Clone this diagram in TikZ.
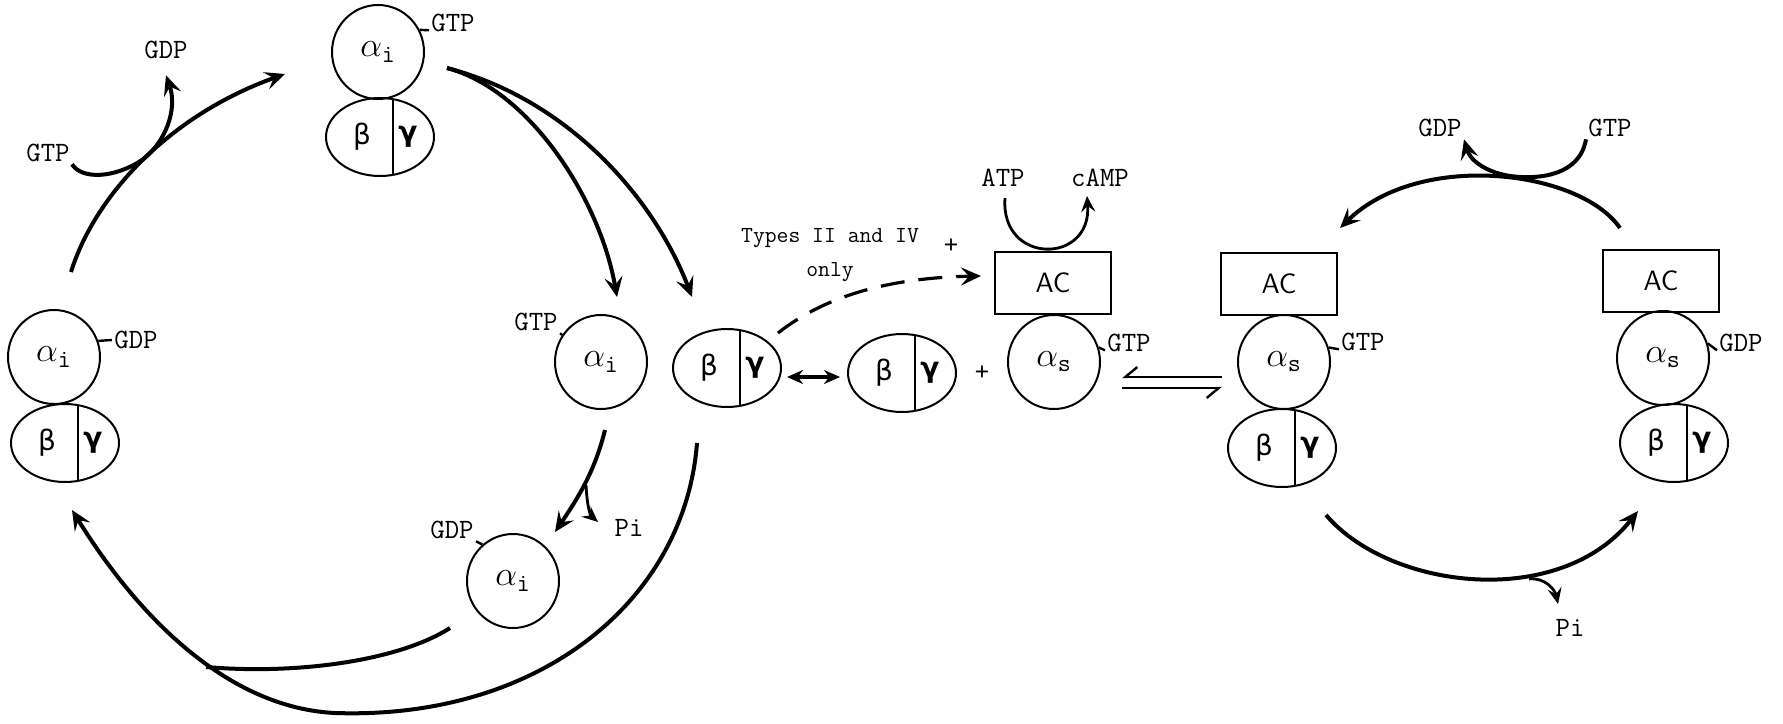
\documentclass[tikz,border=0pt]{standalone}
\usepackage{fontspec}
\usepackage{amsmath}
\newfontfamily\grkfont{DejaVu Sans}
\usetikzlibrary{shapes.geometric,arrows.meta}

\begin{document}
\begin{tikzpicture}[x=0.5pt,y=-0.5pt,
  lab/.style={font=\fontsize{14}{16}\selectfont\ttfamily,inner sep=1pt},
  asub/.style={ellipse,draw,line width=1pt,minimum width=46pt,minimum height=47pt,inner sep=0pt,font=\fontsize{18}{20}\selectfont},
  dimer/.style={ellipse,draw,line width=1pt,minimum width=54pt,minimum height=39pt,font=\fontsize{14}{16}\selectfont,
    path picture={
      \draw[line width=0.9pt] ([xshift=6.5pt]path picture bounding box.north) -- ([xshift=6.5pt]path picture bounding box.south);
      \node at ([xshift=-9pt]path picture bounding box.center) {\grkfont β};
      \node at ([xshift=14pt]path picture bounding box.center) {\grkfont\bfseries γ};}},
  acbox/.style={draw,line width=1pt,minimum width=58pt,minimum height=31pt,font=\sffamily\fontsize{14}{16}\selectfont},
  arr/.style={line width=2pt,-{Stealth[length=10pt,width=9pt,inset=4pt]}},
  thin arr/.style={line width=1.4pt,-{Stealth[length=8pt,width=7pt,inset=3pt]}},
  tickln/.style={line width=1.2pt},
  harp/.style={line width=1.2pt,-{Straight Barb[right,length=6pt,width=10pt]}}]
\useasboundingbox (0,0) rectangle (1783,723);

% left cycle (alpha i)
\node[asub] (ai1) at (378,52) {$\alpha_{\texttt{i}}$};
\node[dimer] (bg1) at (380,137) {};
\node[lab] (gtp1) at (453,23) {GTP};
\draw[tickln] (ai1.28) -- ([yshift=2pt]gtp1.south west);
\node[lab] (gdp0) at (166,50) {GDP};
\node[lab] (gtp0) at (48,153) {GTP};

\node[asub] (ai2) at (54,357) {$\alpha_{\texttt{i}}$};
\node[dimer] (bg2) at (65,443) {};
\node[lab] (gdp2) at (136,340) {GDP};
\draw[tickln] (ai2.20) -- (gdp2.west);

\node[asub] (ai3) at (601,362) {$\alpha_{\texttt{i}}$};
\node[lab] (gtp3) at (536,322) {GTP};
\draw[tickln] (gtp3.south east) -- (ai3.145);

\node[asub] (ai4) at (513,581) {$\alpha_{\texttt{i}}$};
\node[lab] (gdp4) at (452,530) {GDP};
\draw[tickln] (gdp4.south east) -- (ai4.130);
\node[lab] (pi1) at (629,528) {Pi};

% free beta gamma and AC
\node[dimer] (bg3) at (727,368) {};
\node[dimer] (bg4) at (902,373) {};
\node[lab] (plus1) at (982,373) {+};
\node[asub] (as1) at (1054,362) {$\alpha_{\texttt{s}}$};
\node[acbox] (ac1) at (1053,283) {AC};
\node[lab] (gtp4) at (1129,343) {GTP};
\draw[tickln] (as1.18) -- ([yshift=2pt]gtp4.south west);
\node[lab] (atp) at (1003,178) {ATP};
\node[lab] (camp) at (1100,178) {cAMP};
\node[font=\fontsize{11.5}{17}\selectfont\ttfamily,align=center] (types) at (830,255) {Types II and IV\\only};
\node[lab] (plus2) at (951,246) {+};

% right cycle (alpha s)
\node[acbox] (ac2) at (1279,284) {AC};
\node[asub] (as2) at (1284,362) {$\alpha_{\texttt{s}}$};
\node[dimer] (bg5) at (1282,448) {};
\node[lab] (gtp5) at (1363,342) {GTP};
\draw[tickln] (as2.18) -- ([yshift=2pt]gtp5.south west);
\node[acbox] (ac3) at (1661,281) {AC};
\node[asub] (as3) at (1663,358) {$\alpha_{\texttt{s}}$};
\node[dimer] (bg6) at (1674,443) {};
\node[lab] (gdp6) at (1741,343) {GDP};
\draw[tickln] (as3.18) -- ([yshift=2pt]gdp6.south west);
\node[lab] (gdp7) at (1440,128) {GDP};
\node[lab] (gtp7) at (1610,128) {GTP};
\node[lab] (pi2) at (1570,628) {Pi};

% arcs of the left cycle
\coordinate (l0) at (71,272);
\coordinate (l1) at (285,74);
\draw[arr] (l0) .. controls (95,195) and (170,115) .. (l1);
\draw[arr] (gtp0.south east) .. controls (82,180) and (115,178) .. (142,160) .. controls (165,143) and (178,110) .. ([yshift=-7pt]gdp0.south);
\coordinate (t0) at (447,68);
\draw[arr] (t0) .. controls (530,90) and (600,200) .. (617,297);
\draw[arr] (t0) .. controls (570,100) and (655,200) .. (692,297);
\draw[arr] (605,430) .. controls (595,470) and (580,495) .. (555,532);
\draw[thin arr] (586,485) .. controls (587,505) and (590,515) .. (598,522);
\draw[line width=2pt] (450,628) .. controls (400,660) and (300,675) .. (206,667);
\draw[arr] (697,443) .. controls (685,600) and (540,720) .. (335,713) .. controls (230,708) and (140,620) .. (72,510);

% beta gamma to AC
\draw[arr,line width=1.6pt,dash pattern=on 12pt off 7pt] (778,333) .. controls (820,300) and (880,278) .. (981,276);
\draw[line width=1.6pt,{Stealth[length=8pt,width=7pt]}-{Stealth[length=8pt,width=7pt]}] (787,377) -- (840,377);
\draw[thin arr] (1005,198) .. controls (1000,265) and (1092,265) .. (1087,196);
\draw[harp] (1222,377) -- (1122,377);
\draw[harp] (1122,388) -- (1222,388);

% arcs of the right cycle
\draw[arr] (1620,228) .. controls (1580,170) and (1420,150) .. (1340,228);
\draw[arr] (gtp7.south west) .. controls (1580,175) and (1540,180) .. (1510,176) .. controls (1485,172) and (1470,160) .. (gdp7.south east);
\draw[arr] (1326,515) .. controls (1390,590) and (1560,610) .. (1638,511);
\draw[thin arr] (1529,579) .. controls (1545,577) and (1555,590) .. (1558,604);
\end{tikzpicture}
\end{document}
